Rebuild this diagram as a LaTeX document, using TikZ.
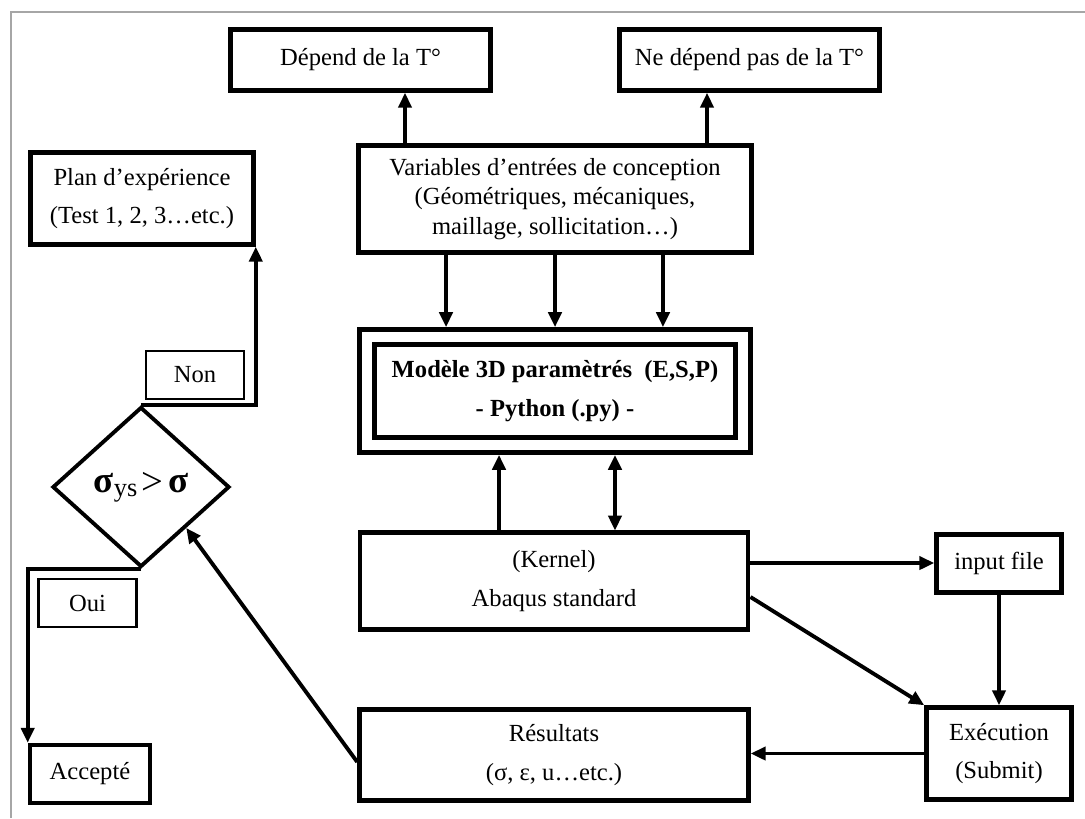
\documentclass[tikz,border=0pt]{standalone}
\usepackage{fontspec}
\setmainfont{Liberation Serif}
\usetikzlibrary{arrows.meta, shapes.geometric}
\newcommand{\boxfont}{\fontsize{14}{17}\selectfont}
\newcommand{\bigsym}{\fontsize{21}{22}\selectfont}
\tikzset{
    >               = {Triangle[length=8.5pt, width=7.5pt]},
    flowbox/.style  = {draw, line width=2.6pt, align=center, inner sep=2pt,
                       font=\boxfont},
    modelbox/.style = {flowbox, double, double distance=6pt, outer sep=5.6pt,
                       font=\boxfont\bfseries},
    tagbox/.style   = {draw, line width=1.3pt, align=center, font=\boxfont,
                       minimum width=1.96cm, minimum height=0.96cm},
    testnode/.style = {draw, diamond, line width=2.2pt, inner sep=0pt,
                       minimum width=3.54cm, minimum height=3.2cm},
    edge/.style     = {->, line width=2.2pt},
}

\begin{document}
\begin{tikzpicture}[x=0.02cm, y=-0.02cm]
\useasboundingbox (0,0) rectangle (1085,818);

% frame
\draw[gray!70, line width=0.6pt] (11,818) -- (11,12) -- (1085,12);

% top row
\node[flowbox, minimum width=5.2cm, minimum height=1.22cm] (dep) at (360.5,60)
    {Dépend de la T°};
\node[flowbox, minimum width=5.2cm, minimum height=1.22cm] (nodep) at (749.5,60)
    {Ne dépend pas de la T°};

\node[flowbox, minimum width=7.86cm, minimum height=2.14cm] (var) at (555,199)
    {Variables d’entrées de conception\\(Géométriques, mécaniques,\\
     maillage, sollicitation…)};
\node[flowbox, minimum width=4.46cm, minimum height=1.84cm] (plan) at (142,198.5)
    {Plan d’expérience\\[5pt](Test 1, 2, 3…etc.)};

\node[modelbox, minimum width=7.52cm, minimum height=2.16cm] (model) at (555,391)
    {Modèle 3D paramètrés \ (E,S,P)\\[5pt]- Python (.py) -};

\node[flowbox, line width=2.3pt, minimum width=7.78cm, minimum height=1.94cm] (kernel)
    at (554,581) {(Kernel)\\[5pt]Abaqus standard};
\node[flowbox, minimum width=2.5cm, minimum height=1.16cm] (input) at (999,563.5)
    {input file};
\node[flowbox, minimum width=2.9cm, minimum height=1.84cm] (exec) at (999,753.5)
    {Exécution\\[5pt](Submit)};
\node[flowbox, minimum width=7.78cm, minimum height=1.82cm] (res) at (554,755)
    {Résultats\\[5pt](σ, ε, u…etc.)};

% decision on the left
\node[testnode] (test) at (141,487)
    {{\bigsym\bfseries σ}\raisebox{-0.5ex}{\fontsize{15}{16}\selectfont ys}\ %
     \raisebox{-0.2ex}{\fontsize{22}{22}\selectfont >}\ {\bigsym\bfseries σ}};
\node[tagbox] (non) at (195,375) {Non};
\node[tagbox] (oui) at (87.5,603) {Oui};
\node[flowbox, minimum width=2.4cm, minimum height=1.16cm] (acc) at (90,774)
    {Accepté};

% connectors
\draw[edge] ([xshift=-3cm]var.north) -- ([xshift=0.89cm]dep.south);
\draw[edge] ([xshift=3.04cm]var.north) -- ([xshift=-0.85cm]nodep.south);
\foreach \dx in {-2.18,0,2.16}
    \draw[edge] ([xshift=\dx cm]var.south) -- ([xshift=\dx cm]model.north);
\draw[edge] ([xshift=-1.1cm]kernel.north) -- ([xshift=-1.12cm]model.south);
\draw[edge, <->] ([xshift=1.22cm]kernel.north) -- ([xshift=1.2cm]model.south);
\draw[edge] ([yshift=0.36cm]kernel.east) -- ([yshift=0.36cm]kernel.east -| input.west);
\draw[edge] ([yshift=-0.32cm]kernel.east) -- (exec.north west);
\draw[edge] (input.south) -- (exec.north);
\draw[edge] (exec.west) -- (exec.west -| res.east);
\draw[edge] ([yshift=-0.14cm]res.west) -- (test.south east);
\draw[edge] (test.north) -| (plan.south east);
\draw[edge] (test.south) -| (acc.north west);

\end{tikzpicture}
\end{document}
